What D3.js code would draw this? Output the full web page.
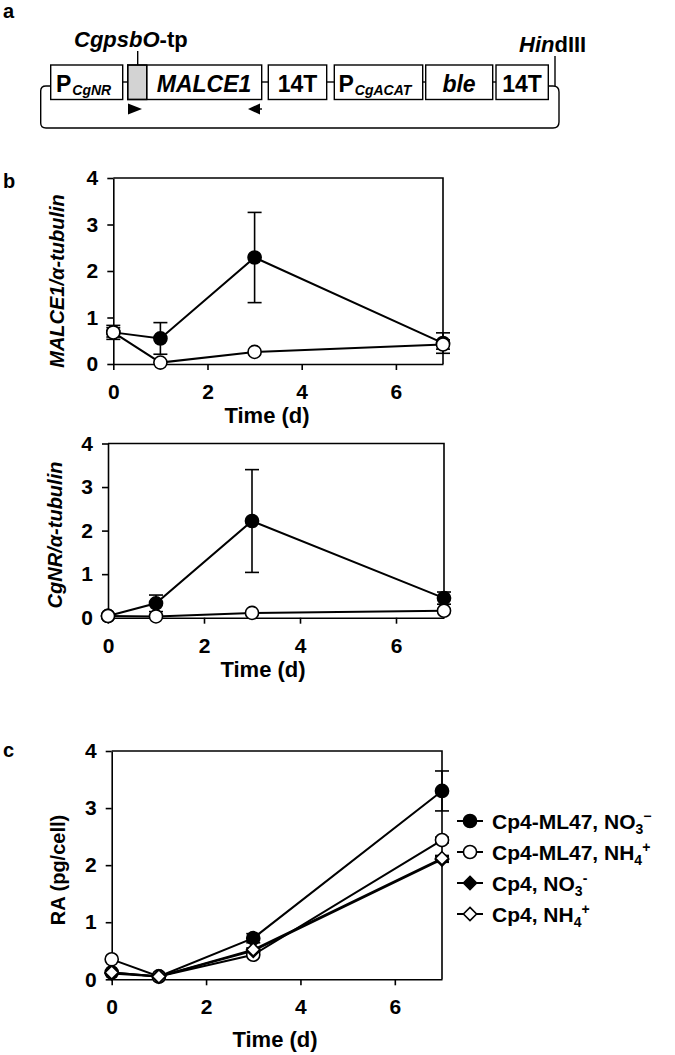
<!DOCTYPE html>
<html><head><meta charset="utf-8">
<script src="https://cdn.jsdelivr.net/npm/d3@7"></script>
<style>
html,body{margin:0;padding:0;background:#fff;}
svg{display:block;font-family:"Liberation Sans",Arial,Helvetica,sans-serif;font-weight:bold;}
</style></head>
<body>
<svg id="chart" width="675" height="1055"></svg>
<script>
// ---------- data ----------
const days = [0, 1, 3, 7];
const xTicks = [0, 2, 4, 6];
const yTicks = [0, 1, 2, 3, 4];

// panel b (top): MALCE1 / alpha-tubulin
const malceNO3 = [0.68, 0.55, 2.29, 0.45];
const malceNO3Err = [0.15, 0.34, 0.97, 0.22];
const malceNH4 = [0.68, 0.03, 0.26, 0.42];
const malceNH4Err = [0.1, 0.0, 0.0, 0.1];

// panel b (bottom): CgNR / alpha-tubulin
const cgnrNO3 = [0.04, 0.33, 2.22, 0.45];
const cgnrNO3Err = [0.0, 0.19, 1.18, 0.14];
const cgnrNH4 = [0.04, 0.03, 0.11, 0.16];
const cgnrNH4Err = [0.0, 0.0, 0.0, 0.03];

// panel c: RA (pg/cell)
const raML47NO3 = [0.12, 0.05, 0.72, 3.3];
const raML47NO3Err = [0.0, 0.0, 0.08, 0.35];
const raML47NH4 = [0.35, 0.05, 0.43, 2.44];
const raML47NH4Err = [0.0, 0.0, 0.0, 0.05];
const raCp4NO3 = [0.1, 0.05, 0.5, 2.1];
const raCp4NO3Err = [0.0, 0.0, 0.03, 0.05];
const raCp4NH4 = [0.12, 0.05, 0.52, 2.12];
const raCp4NH4Err = [0.0, 0.0, 0.03, 0.05];

const legendLabels = [
  ["Cp4-ML47, NO", "3", "\u2212"],
  ["Cp4-ML47, NH", "4", "+"],
  ["Cp4, NO", "3", "-"],
  ["Cp4, NH", "4", "+"]
];

// ---------- drawing ----------
const svg = d3.select("#chart");
const FONT = '"Liberation Sans",Arial,Helvetica,sans-serif';

function panelLabel(t, x, y) {
  svg.append("text").attr("x", x).attr("y", y).attr("font-size", 20).text(t);
}

function makePanel(g) {
  const x = d3.scaleLinear().domain([0, 7]).range([g.left, g.right]);
  const y = d3.scaleLinear().domain([0, 4]).range([g.bottom, g.top]);
  const root = svg.append("g");
  // frame (top and right)
  root.append("path")
    .attr("d", `M${x(0)},${y(4)}H${x(7)}V${y(0)}`)
    .attr("fill", "none").attr("stroke", "#000").attr("stroke-width", 1.6);
  const ya = root.append("g").attr("transform", `translate(${x(0)},0)`)
    .call(d3.axisLeft(y).tickValues(yTicks).tickSize(6).tickSizeOuter(0).tickPadding(9).tickFormat(d3.format("d")));
  const xa = root.append("g").attr("transform", `translate(0,${y(0)})`)
    .call(d3.axisBottom(x).tickValues(xTicks).tickSize(6).tickSizeOuter(0).tickPadding(14).tickFormat(d3.format("d")));
  [ya, xa].forEach(a => {
    a.selectAll("path,line").attr("stroke", "#000").attr("stroke-width", 1.6);
    a.selectAll("text").attr("font-size", 21).attr("font-weight", "bold").attr("font-family", FONT).attr("fill", "#000");
  });
  root.append("text").attr("x", g.xTitleX).attr("y", g.xTitleY)
    .attr("text-anchor", "middle").attr("font-size", 22).text("Time (d)");
  const yl = root.append("text")
    .attr("transform", `translate(${g.yTitleX},${g.yTitleY}) rotate(-90)`)
    .attr("text-anchor", "middle").attr("dy", "0.35em").attr("font-size", 20)
    .attr("font-style", g.yItalic ? "italic" : "normal");
  g.yTitle(yl);
  return { x, y, root };
}

function drawSeries(p, vals, errs, kind, fill) {
  const line = d3.line().x((d, i) => p.x(days[i])).y(d => p.y(d));
  p.root.append("path").datum(vals).attr("d", line)
    .attr("fill", "none").attr("stroke", "#000").attr("stroke-width", 2);
}
function drawErrors(p, vals, errs) {
  const g = p.root.append("g").attr("stroke", "#000").attr("stroke-width", 1.6);
  vals.forEach((v, i) => {
    const e = errs[i];
    if (!e) return;
    const cx = p.x(days[i]);
    const y1 = p.y(v + e), y2 = p.y(Math.max(0, v - e));
    g.append("line").attr("x1", cx).attr("x2", cx).attr("y1", y1).attr("y2", y2);
    g.append("line").attr("x1", cx - 7).attr("x2", cx + 7).attr("y1", y1).attr("y2", y1);
    if (v - e > 0) g.append("line").attr("x1", cx - 7).attr("x2", cx + 7).attr("y1", y2).attr("y2", y2);
  });
}
function drawMarkers(p, vals, kind, fill) {
  const sym = kind === "circle" ? d3.symbolCircle : d3.symbolDiamond2;
  const size = kind === "circle" ? 135 : 110;
  p.root.append("g").selectAll("path").data(vals).join("path")
    .attr("transform", (d, i) => `translate(${p.x(days[i])},${p.y(d)})`)
    .attr("d", d3.symbol().type(sym).size(size))
    .attr("fill", fill).attr("stroke", "#000").attr("stroke-width", 1.6);
}

// ----- panel a: construct diagram -----
panelLabel("a", 3, 18);
(function () {
  const gA = svg.append("g");
  const top = 65, bot = 99.5, mid = 82;
  const boxes = [
    { x0: 50.7, x1: 122.7 },
    { x0: 127.7, x1: 261.7 },
    { x0: 268.3, x1: 326.7 },
    { x0: 334.3, x1: 422.7 },
    { x0: 425.7, x1: 492.7 },
    { x0: 496, x1: 548.3 }
  ];
  // loop backbone
  gA.append("path")
    .attr("d", "M50.7,86 H46 Q40.7,86 40.7,91 V123 Q40.7,128 46,128 H553 Q559,128 559,122 V92 Q559,86 553,86 H548.3")
    .attr("fill", "none").attr("stroke", "#000").attr("stroke-width", 1.4);
  // connectors
  for (let i = 0; i < boxes.length - 1; i++) {
    gA.append("line").attr("x1", boxes[i].x1).attr("x2", boxes[i + 1].x0)
      .attr("y1", mid).attr("y2", mid).attr("stroke", "#000").attr("stroke-width", 1.4);
  }
  // gray transit peptide
  gA.append("rect").attr("x", 127.7).attr("y", top).attr("width", 19).attr("height", bot - top)
    .attr("fill", "#d3d3d3").attr("stroke", "#000").attr("stroke-width", 1.4);
  boxes.forEach(b => {
    gA.append("rect").attr("x", b.x0).attr("y", top).attr("width", b.x1 - b.x0).attr("height", bot - top)
      .attr("fill", "none").attr("stroke", "#000").attr("stroke-width", 1.4);
  });
  gA.append("line").attr("x1", 146.7).attr("x2", 146.7).attr("y1", top).attr("y2", bot)
    .attr("stroke", "#000").attr("stroke-width", 1.4);
  const base = 91.5;
  // P_CgNR
  let t = gA.append("text").attr("x", 56).attr("y", base).attr("font-size", 23);
  t.append("tspan").text("P");
  t.append("tspan").attr("font-size", 14).attr("font-style", "italic").attr("dy", 3).attr("dx", 1).text("CgNR");
  gA.append("text").attr("x", 204).attr("y", base).attr("text-anchor", "middle")
    .attr("font-size", 23).attr("font-style", "italic").text("MALCE1");
  gA.append("text").attr("x", 297.5).attr("y", base).attr("text-anchor", "middle").attr("font-size", 23).text("14T");
  t = gA.append("text").attr("x", 338.5).attr("y", base).attr("font-size", 23);
  t.append("tspan").text("P");
  t.append("tspan").attr("font-size", 14).attr("font-style", "italic").attr("dy", 3).attr("dx", 1).text("CgACAT");
  gA.append("text").attr("x", 459).attr("y", base).attr("text-anchor", "middle")
    .attr("font-size", 23).attr("font-style", "italic").text("ble");
  gA.append("text").attr("x", 522).attr("y", base).attr("text-anchor", "middle").attr("font-size", 23).text("14T");
  // CgpsbO-tp label
  t = gA.append("text").attr("x", 74).attr("y", 47).attr("font-size", 22);
  t.append("tspan").attr("font-style", "italic").text("CgpsbO");
  t.append("tspan").text("-tp");
  gA.append("line").attr("x1", 137.7).attr("x2", 137.7).attr("y1", 51).attr("y2", top)
    .attr("stroke", "#000").attr("stroke-width", 1.4);
  // HindIII
  t = gA.append("text").attr("x", 519).attr("y", 52).attr("font-size", 22);
  t.append("tspan").attr("font-style", "italic").text("Hin");
  t.append("tspan").text("dIII");
  gA.append("line").attr("x1", 555).attr("x2", 555).attr("y1", 56).attr("y2", 86)
    .attr("stroke", "#000").attr("stroke-width", 1.4);
  // primer arrows
  gA.append("path").attr("d", "M128,103.5 L142,109 L128,114.5 Z").attr("fill", "#000");
  gA.append("path").attr("d", "M248,109 L260,103.5 L260,114.5 Z").attr("fill", "#000");
  gA.append("line").attr("x1", 259).attr("x2", 262).attr("y1", 109).attr("y2", 109).attr("stroke", "#000").attr("stroke-width", 1.4);
})();

// ----- panel b top -----
panelLabel("b", 3, 188);
const pb1 = makePanel({
  left: 113.3, right: 443, top: 178, bottom: 364,
  xTitleX: 267, xTitleY: 423, yTitleX: 57, yTitleY: 281, yItalic: true,
  yTitle: t => t.text("MALCE1/\u03b1-tubulin")
});
drawErrors(pb1, malceNO3, malceNO3Err);
drawErrors(pb1, malceNH4, malceNH4Err);
drawSeries(pb1, malceNO3);
drawSeries(pb1, malceNH4);
drawMarkers(pb1, malceNO3, "circle", "#000");
drawMarkers(pb1, malceNH4, "circle", "#fff");

// ----- panel b bottom -----
const pb2 = makePanel({
  left: 108, right: 444, top: 443.5, bottom: 617.7,
  xTitleX: 263, xTitleY: 677, yTitleX: 55, yTitleY: 535, yItalic: true,
  yTitle: t => t.text("CgNR/\u03b1-tubulin")
});
drawErrors(pb2, cgnrNO3, cgnrNO3Err);
drawErrors(pb2, cgnrNH4, cgnrNH4Err);
drawSeries(pb2, cgnrNO3);
drawSeries(pb2, cgnrNH4);
drawMarkers(pb2, cgnrNO3, "circle", "#000");
drawMarkers(pb2, cgnrNH4, "circle", "#fff");

// ----- panel c -----
panelLabel("c", 3, 757);
const pc = makePanel({
  left: 111.7, right: 442, top: 751, bottom: 979.3,
  xTitleX: 275, xTitleY: 1047, yTitleX: 58, yTitleY: 870, yItalic: false,
  yTitle: t => t.text("RA (pg/cell)")
});
const cSeries = [
  { v: raML47NO3, e: raML47NO3Err, kind: "circle", fill: "#000" },
  { v: raML47NH4, e: raML47NH4Err, kind: "circle", fill: "#fff" },
  { v: raCp4NO3, e: raCp4NO3Err, kind: "diamond", fill: "#000" },
  { v: raCp4NH4, e: raCp4NH4Err, kind: "diamond", fill: "#fff" }
];
cSeries.forEach(s => drawErrors(pc, s.v, s.e));
cSeries.forEach(s => drawSeries(pc, s.v));
cSeries.forEach(s => drawMarkers(pc, s.v, s.kind, s.fill));

// legend
const lg = svg.append("g");
cSeries.forEach((s, i) => {
  const cy = 821 + i * 31;
  lg.append("line").attr("x1", 457).attr("x2", 483).attr("y1", cy).attr("y2", cy)
    .attr("stroke", "#000").attr("stroke-width", 2);
  const sym = s.kind === "circle" ? d3.symbolCircle : d3.symbolDiamond2;
  lg.append("path").attr("transform", `translate(470,${cy})`)
    .attr("d", d3.symbol().type(sym).size(s.kind === "circle" ? 135 : 110))
    .attr("fill", s.fill).attr("stroke", "#000").attr("stroke-width", 1.6);
  const lab = legendLabels[i];
  const t = lg.append("text").attr("x", 492).attr("y", cy + 7.5).attr("font-size", 21);
  t.append("tspan").text(lab[0]);
  t.append("tspan").attr("font-size", 14).attr("dy", 5).text(lab[1]);
  t.append("tspan").attr("font-size", 14).attr("dy", -13).text(lab[2]);
});
</script>
</body></html>
